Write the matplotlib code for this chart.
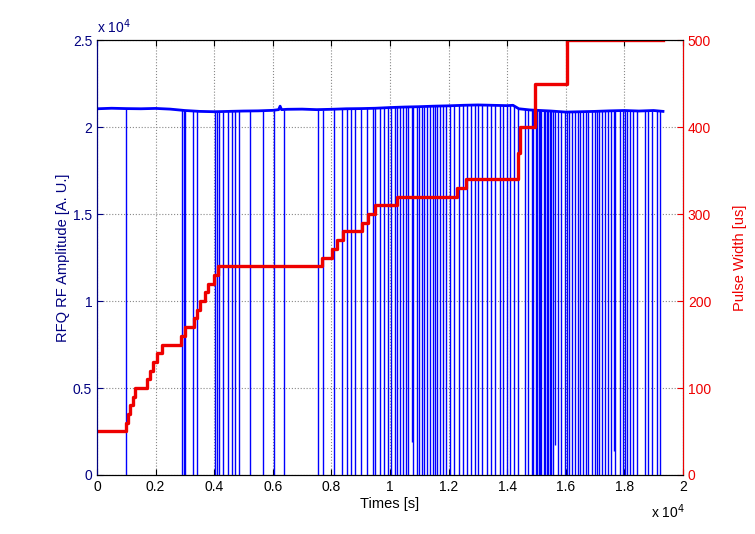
import numpy as np
import matplotlib
matplotlib.use("Agg")
import matplotlib.pyplot as plt
from matplotlib.ticker import FuncFormatter

plt.rcParams['font.family'] = ['Liberation Sans', 'DejaVu Sans']

# RF amplitude baseline (time [s], amplitude [A.U.])
base_t = [0, 500, 1000, 1500, 2000, 2500, 3000, 3500, 4000, 4500, 5000, 5500,
          6000, 6200, 6250, 6300, 6500, 7000, 7500, 8000, 8500, 9000, 9500,
          10000, 10500, 11000, 11500, 12000, 12500, 13000, 13500, 14000,
          14200, 14400, 14800, 15500, 16000, 16500, 17000, 17500, 18000,
          18500, 19000, 19320]
base_v = [21050, 21080, 21060, 21050, 21070, 21030, 20950, 20900, 20880, 20900,
          20920, 20930, 20960, 21000, 21200, 21000, 21020, 21030, 21000, 21020,
          21050, 21060, 21080, 21120, 21150, 21170, 21200, 21220, 21250, 21270,
          21250, 21230, 21250, 21050, 20980, 20920, 20860, 20880, 20900, 20930,
          20950, 20920, 20950, 20900]

# RF trips: times where the amplitude drops to zero
drop_t = [980, 2900, 2960, 3000, 3280, 3420, 4020, 4100, 4160, 4300, 4470,
          4600, 4710, 4850, 5220, 5650, 6040, 6380, 7550, 7700, 8100, 8350,
          8540, 8660, 8800, 9000, 9200, 9410, 9490, 9660, 9800, 9940, 10050,
          10170, 10250, 10340, 10450, 10550, 10620, 10800, 10910, 11000,
          11080, 11160, 11250, 11380, 11470, 11540, 11610, 11700, 11800,
          11900, 12050, 12200, 12350, 12480, 12620, 12750, 12900, 13020,
          13130, 13300, 13450, 13600, 13750, 13870, 13980, 14100, 14250,
          14380, 14610, 14700, 14840, 14900, 14990, 15020, 15080, 15120,
          15170, 15260, 15300, 15350, 15400, 15450, 15500, 15570, 15750,
          15850, 15980, 16050, 16120, 16200, 16320, 16420, 16490, 16600,
          16700, 16770, 16900, 17000, 17080, 17150, 17230, 17340, 17450,
          17550, 17680, 17850, 17950, 18020, 18100, 18190, 18300, 18450,
          18700, 18820, 18950, 19110, 19230]
# partial dips (time, lowest amplitude)
dip_t = [10740, 15640, 17650]
dip_v = [1900, 1700, 1400]

# pulse width steps (start time [s], width [us])
pw_t = [0, 980, 1050, 1130, 1220, 1300, 1700, 1810, 1920, 2040, 2210, 2860,
        3000, 3310, 3400, 3515, 3690, 3800, 3990, 4140, 7670, 8010, 8200,
        8400, 9030, 9260, 9490, 10230, 12280, 12580, 14380, 14450, 14950,
        16050, 19320]
pw_v = [50, 60, 70, 80, 90, 100, 110, 120, 130, 140, 150, 160, 170, 180, 190,
        200, 210, 220, 230, 240, 250, 260, 270, 280, 290, 300, 310, 320, 330,
        340, 370, 400, 450, 500, 500]

fig = plt.figure(figsize=(7.55, 5.34), dpi=100)
ax = fig.add_axes([0.1285, 0.1105, 0.776, 0.8145])
ax2 = ax.twinx()

blue = '#0000ff'
navy = '#000080'
red = '#ee0000'

top = np.interp(drop_t, base_t, base_v)
ax.vlines(drop_t, 0, top, color=blue, linewidth=1.0)
dtop = np.interp(dip_t, base_t, base_v)
ax.vlines(dip_t, dip_v, dtop, color=blue, linewidth=1.0)
ax.plot(base_t, base_v, color=blue, linewidth=2.0)

ax2.step(pw_t, pw_v, where='post', color=red, linewidth=2.4)

ax.set_xlim(0, 20000)
ax.set_ylim(0, 25000)
ax2.set_ylim(0, 500)
ax.set_xticks(np.arange(0, 20001, 2000))
ax.set_yticks(np.arange(0, 25001, 5000))
ax2.set_yticks(np.arange(0, 501, 100))
fmt = FuncFormatter(lambda v, p: f'{v / 1e4:g}')
ax.xaxis.set_major_formatter(fmt)
ax.yaxis.set_major_formatter(fmt)

ax.grid(True, linestyle=':', color='#888888', linewidth=0.8)
for a in (ax, ax2):
    a.tick_params(direction='in', length=4, labelsize=10)
    a.tick_params(axis='x', top=True)
ax.tick_params(axis='y', colors=navy)
ax.tick_params(axis='x', colors='black')
ax2.tick_params(axis='y', colors=red)
ax2.spines['right'].set_color(red)
ax.spines['left'].set_color(navy)
ax2.spines['left'].set_color(navy)

ax.set_xlabel('Times [s]', fontsize=10.5, labelpad=2)
ax.set_ylabel('RFQ RF Amplitude [A. U.]', color=navy, fontsize=10.5, labelpad=2)
ax2.set_ylabel('Pulse Width [us]', color=red, fontsize=10.5, labelpad=16)

fig.text(0.128, 0.932, r'x 10$^{4}$', color=navy, fontsize=10, ha='left', va='bottom')
fig.text(0.862, 0.025, r'x 10$^{4}$', color='black', fontsize=10, ha='left', va='bottom')

fig.savefig('out.png', dpi=100)
